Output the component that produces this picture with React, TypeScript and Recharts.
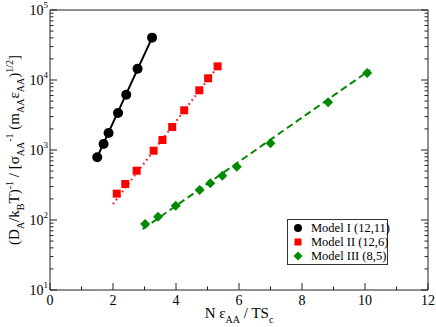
import { ScatterChart, Scatter, XAxis, YAxis, Legend } from "recharts";

// Model I (12,11)
const modelIX = [1.5, 1.7, 1.86, 2.16, 2.42, 2.78, 3.24];
const modelIY = [790, 1220, 1750, 3380, 6170, 14500, 40300];
// Model II (12,6)
const modelIIX = [2.12, 2.39, 2.75, 3.29, 3.57, 3.88, 4.26, 4.74, 5.02, 5.32];
const modelIIY = [238, 327, 506, 977, 1390, 2130, 3690, 7130, 10570, 15660];
// Model III (8,5)
const modelIIIX = [3.02, 3.43, 3.99, 4.75, 5.09, 5.47, 5.93, 7.0, 8.83, 10.07];
const modelIIIY = [88, 111, 160, 268, 334, 430, 577, 1247, 4800, 12590];

// fitted lines (end points)
const fitIX = [1.48, 3.26];
const fitIY = [760, 42000];
const fitIIX = [2.0, 5.42];
const fitIIY = [169, 17660];
const fitIIIX = [2.94, 10.16];
const fitIIIY = [74, 13900];

const xMajor = [0, 2, 4, 6, 8, 10, 12];
const xMinor = [1, 3, 5, 7, 9, 11];
const yDecades = [10, 100, 1000, 10000, 100000];
const yExponents = ["1", "2", "3", "4", "5"];
const yMinorSteps = [2, 3, 4, 5, 6, 7, 8, 9];

const seriesNames = ["Model I (12,11)", "Model II (12,6)", "Model III (8,5)"];

const BLACK = "#000000";
const RED = "#ff0000";
const GREEN = "#008b00";
const FONT = '"Liberation Serif", "DejaVu Serif", serif';

const pts = (xs: number[], ys: number[]) => xs.map((x, i) => ({ x, y: ys[i] }));

const xTicks = [...xMajor, ...xMinor].sort((a, b) => a - b);
const yTicks = [
  ...yDecades,
  ...yDecades.slice(0, -1).flatMap((d) => yMinorSteps.map((s) => d * s)),
].sort((a, b) => a - b);

const MAJ = 7;
const MIN = 3.5;

type Part = [string, number];

function rich(parts: Part[], size: number, small: number) {
  let cur = 0;
  return parts.map(([t, lvl], i) => {
    const target = lvl < 0 ? 0.3 * size : lvl > 0 ? -0.42 * size : 0;
    const dy = target - cur;
    cur = target;
    return (
      <tspan key={i} dy={dy} fontSize={lvl ? small : size}>
        {t}
      </tspan>
    );
  });
}

const yTitle: Part[] = [
  ["(D", 0], ["A", -1], ["/k", 0], ["B", -1], ["T)", 0], ["-1", 1],
  [" / [σ", 0], ["AA", -1], ["-1", 1], [" (m", 0], ["AA", -1], ["ε", 0],
  ["AA", -1], [")", 0], ["1/2", 1], ["]", 0],
];
const xTitle: Part[] = [["N ε", 0], ["AA", -1], [" / TS", 0], ["c", -1]];

function BottomTick(props: any) {
  const { x, y, payload } = props;
  const major = xMajor.includes(payload.value);
  return (
    <g>
      <line x1={x} x2={x} y1={y} y2={y - (major ? MAJ : MIN)} stroke="#222" />
      {major && (
        <text x={x} y={y + 15} textAnchor="middle" fontSize={14} fontFamily={FONT} fill="#000">
          {payload.value}
        </text>
      )}
    </g>
  );
}

function TopTick(props: any) {
  const { x, y, payload } = props;
  const major = xMajor.includes(payload.value);
  return <line x1={x} x2={x} y1={y} y2={y + (major ? MAJ : MIN)} stroke="#222" />;
}

function LeftTick(props: any) {
  const { x, y, payload } = props;
  const idx = yDecades.indexOf(payload.value);
  const major = idx >= 0;
  return (
    <g>
      <line x1={x} x2={x + (major ? MAJ : MIN)} y1={y} y2={y} stroke="#222" />
      {major && (
        <text x={x - 2} y={y + 5} textAnchor="end" fontSize={14} fontFamily={FONT} fill="#000">
          10
          <tspan dy={-7} fontSize={9}>
            {yExponents[idx]}
          </tspan>
        </text>
      )}
    </g>
  );
}

function RightTick(props: any) {
  const { x, y, payload } = props;
  const major = yDecades.includes(payload.value);
  return <line x1={x} x2={x - (major ? MAJ : MIN)} y1={y} y2={y} stroke="#222" />;
}

const Circle = (p: any) => <circle cx={p.cx} cy={p.cy} r={5} fill={BLACK} />;
const Square = (p: any) => <rect x={p.cx - 4} y={p.cy - 4} width={8} height={8} fill={RED} />;
const Diamond = (p: any) => (
  <path d={`M${p.cx},${p.cy - 5}L${p.cx + 5},${p.cy}L${p.cx},${p.cy + 5}L${p.cx - 5},${p.cy}Z`} fill={GREEN} />
);
const NoDot = () => <g />;

function LegendBox() {
  const icons = [
    <circle cx={6} cy={6} r={4} fill={BLACK} />,
    <rect x={2.5} y={2.5} width={7} height={7} fill={RED} />,
    <path d="M6,1.5L10.5,6L6,10.5L1.5,6Z" fill={GREEN} />,
  ];
  return (
    <div
      style={{
        border: "1px solid #333",
        background: "#fff",
        width: 99,
        height: 43,
        boxSizing: "content-box",
        fontFamily: FONT,
        fontSize: 12.5,
        lineHeight: "14px",
        paddingTop: 1,
        whiteSpace: "nowrap",
        color: "#000",
      }}
    >
      {seriesNames.map((n, i) => (
        <div key={n} style={{ display: "flex", alignItems: "center", height: 14 }}>
          <svg width={12} height={12} style={{ marginLeft: 4, marginRight: 7, flexShrink: 0 }}>
            {icons[i]}
          </svg>
          <span style={{ whiteSpace: "nowrap" }}>{n}</span>
        </div>
      ))}
    </div>
  );
}

export default function App() {
  return (
    <div style={{ position: "absolute", left: 0, top: 0, background: "#fff" }}>
      <ScatterChart width={436} height={327} margin={{ top: 0, right: 0, bottom: 0, left: 0 }}>
        <XAxis
          xAxisId="b"
          dataKey="x"
          type="number"
          domain={[0, 12]}
          ticks={xTicks}
          interval={0}
          height={37}
          tickSize={0}
          tickMargin={0}
          tickLine={false}
          axisLine={{ stroke: "#222" }}
          tick={<BottomTick />}
          label={{
            content: (p: any) => (
              <text
                x={p.viewBox.x + p.viewBox.width / 2}
                y={p.viewBox.y + 28}
                textAnchor="middle"
                fontFamily={FONT}
                fill="#000"
              >
                {rich(xTitle, 15, 10)}
              </text>
            ),
          }}
        />
        <XAxis
          xAxisId="t"
          orientation="top"
          dataKey="x"
          type="number"
          domain={[0, 12]}
          ticks={xTicks}
          interval={0}
          height={10}
          tickSize={0}
          tickMargin={0}
          tickLine={false}
          axisLine={{ stroke: "#222" }}
          tick={<TopTick />}
        />
        <YAxis
          yAxisId="l"
          dataKey="y"
          type="number"
          scale="log"
          domain={[10, 100000]}
          allowDataOverflow
          ticks={yTicks}
          interval={0}
          width={50}
          tickSize={0}
          tickMargin={0}
          tickLine={false}
          axisLine={{ stroke: "#222" }}
          tick={<LeftTick />}
          label={{
            content: (p: any) => (
              <text
                transform={`translate(${p.viewBox.x + 19},${p.viewBox.y + p.viewBox.height / 2}) rotate(-90)`}
                textAnchor="middle"
                fontFamily={FONT}
                fill="#000"
              >
                {rich(yTitle, 15, 10)}
              </text>
            ),
          }}
        />
        <YAxis
          yAxisId="r"
          orientation="right"
          dataKey="y"
          type="number"
          scale="log"
          domain={[10, 100000]}
          allowDataOverflow
          ticks={yTicks}
          interval={0}
          width={8}
          tickSize={0}
          tickMargin={0}
          tickLine={false}
          axisLine={{ stroke: "#222" }}
          tick={<RightTick />}
        />
        <Legend
          layout="horizontal"
          verticalAlign="middle"
          align="center"
          wrapperStyle={{ left: 287, top: 219, width: 101, height: 45 }}
          content={() => <LegendBox />}
        />
        <Scatter xAxisId="b" yAxisId="l" data={pts(fitIX, fitIY)} line={{ stroke: BLACK, strokeWidth: 2 }} shape={NoDot} legendType="none" isAnimationActive={false} />
        <Scatter xAxisId="b" yAxisId="l" data={pts(fitIIX, fitIIY)} line={{ stroke: RED, strokeWidth: 2, strokeDasharray: "1.5 3.5" }} shape={NoDot} legendType="none" isAnimationActive={false} />
        <Scatter xAxisId="b" yAxisId="l" data={pts(fitIIIX, fitIIIY)} line={{ stroke: GREEN, strokeWidth: 2, strokeDasharray: "7 4" }} shape={NoDot} legendType="none" isAnimationActive={false} />
        <Scatter xAxisId="b" yAxisId="l" name={seriesNames[0]} data={pts(modelIX, modelIY)} shape={Circle} isAnimationActive={false} />
        <Scatter xAxisId="b" yAxisId="l" name={seriesNames[1]} data={pts(modelIIX, modelIIY)} shape={Square} isAnimationActive={false} />
        <Scatter xAxisId="b" yAxisId="l" name={seriesNames[2]} data={pts(modelIIIX, modelIIIY)} shape={Diamond} isAnimationActive={false} />
      </ScatterChart>
    </div>
  );
}
